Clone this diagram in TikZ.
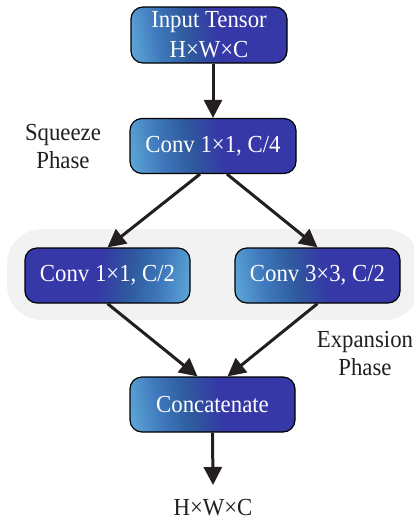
\documentclass[tikz,border=0pt]{standalone}
\usepackage{fontspec}
\setmainfont[FakeStretch=0.93]{Liberation Serif}
\usetikzlibrary{arrows.meta}
\definecolor{lb}{HTML}{66B6E0}
\definecolor{mb}{HTML}{3F78BC}
\definecolor{tb}{HTML}{2F5A9E}
\definecolor{db}{HTML}{3538A6}
\definecolor{arr}{HTML}{231F20}
\definecolor{bgg}{HTML}{F2F2F2}
\pgfdeclarehorizontalshading{boxgrad}{100bp}{color(0bp)=(lb); color(18bp)=(lb); color(32bp)=(mb); color(42bp)=(tb); color(53bp)=(db); color(100bp)=(db)}
\pgfdeclarehorizontalshading{boxgradr}{100bp}{color(0bp)=(db); color(47bp)=(db); color(58bp)=(tb); color(68bp)=(mb); color(82bp)=(lb); color(100bp)=(lb)}
\tikzset{
 blk/.style={draw=black, line width=1.2pt, rounded corners=12pt, minimum width=165pt, minimum height=55pt, inner sep=0pt, text=white, font=\fontsize{24.5}{30}\selectfont, align=center, shading=boxgrad, shading angle=10},
 blkr/.style={blk, shading=boxgradr, shading angle=-10},
 lbl/.style={font=\fontsize{24.5}{28}\selectfont, text=arr, align=center, inner sep=0pt},
 con/.style={draw=arr, line width=3pt, -{Triangle[width=18pt,length=18pt]}},
}
\begin{document}
\begin{tikzpicture}[x=1pt, y=-1pt]
\useasboundingbox (0,0) rectangle (414,523);
\fill[bgg, rounded corners=35pt] (7,229) rectangle (420,320);
\node[blk, minimum width=156pt, minimum height=56pt] (inp) at (209,35) {Input Tensor\\H×W×C};
\node[blk, minimum width=166pt] (c4) at (213,146) {Conv 1×1, C/4};
\node[blkr] (l) at (107.5,275.5) {Conv 1×1, C/2};
\node[blk] (r) at (317.5,275.5) {Conv 3×3, C/2};
\node[blk] (cat) at (212.5,404.5) {Concatenate};
\node[lbl] (sq) at (63,147) {Squeeze\\Phase};
\node[lbl] (ex) at (365,354) {Expansion\\Phase};
\node[lbl] (out) at (213,508) {H×W×C};
\coordinate (outtip) at (213,485);
\draw[con] (c4.north |- inp.south) -- (c4.north);
\draw[con] ([xshift=-13pt]c4.south) -- (l.north);
\draw[con] ([xshift=14pt]c4.south) -- (r.north);
\draw[con] (l.south) -- ([xshift=-15pt]cat.north);
\draw[con] (r.south) -- ([xshift=15pt]cat.north);
\draw[con] (cat.south) -- (outtip);
\end{tikzpicture}
\end{document}
